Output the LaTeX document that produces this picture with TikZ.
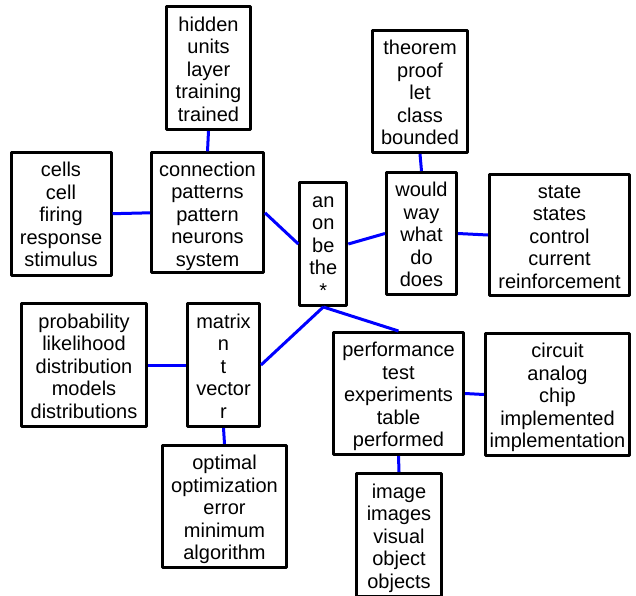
\documentclass[tikz,border=0pt]{standalone}
\usepackage{fontspec}
\setmainfont{Liberation Sans}
\newcommand\ls{\rule[-4.5pt]{0pt}{25.5pt}}
\newcommand\tfont{\fontsize{20}{22.5}\selectfont\lineskiplimit=-100pt\relax\lineskip=0pt\relax}
\begin{document}
\begin{tikzpicture}[x=1pt,y=-1pt,
  topic/.style={draw=black, line width=3pt, line join=round, fill=white, inner sep=0pt,
    align=center, font=\tfont, text=black},
  link/.style={draw={rgb,255:red,0;green,0;blue,255}, line width=3pt}]
\useasboundingbox (0,0) rectangle (636,595);
\node[topic, minimum width=84pt, minimum height=123pt] (hid) at (208.5,68) {\ls hidden\\\ls units\\\ls layer\\\ls training\\\ls trained};
\node[topic, minimum width=100pt, minimum height=123pt] (cel) at (61,213.7) {\ls cells\\\ls cell\\\ls firing\\\ls response\\\ls stimulus};
\node[topic, minimum width=112pt, minimum height=120pt] (con) at (207.5,212.8) {\ls connection\\\ls patterns\\\ls pattern\\\ls neurons\\\ls system};
\node[topic, minimum width=47pt, minimum height=123pt] (ctr) at (323.3,244) {\ls an\\\ls on\\\ls be\\\ls the\\\ls *};
\node[topic, minimum width=95pt, minimum height=122pt] (thm) at (420,91.5) {\ls theorem\\\ls proof\\\ls let\\\ls class\\\ls bounded};
\node[topic, minimum width=70pt, minimum height=122pt] (wou) at (421.5,233.5) {\ls would\\\ls way\\\ls what\\\ls do\\\ls does};
\node[topic, minimum width=140pt, minimum height=121pt] (sta) at (559.5,235) {\ls state\\\ls states\\\ls control\\\ls current\\\ls reinforcement};
\node[topic, minimum width=125pt, minimum height=123pt] (pro) at (84,365) {\ls probability\\\ls likelihood\\\ls distribution\\\ls models\\\ls distributions};
\node[topic, minimum width=72pt, minimum height=123pt] (mat) at (223.5,365) {\ls matrix\\\ls n\\\ls t\\\ls vector\\\ls r};
\node[topic, minimum width=124pt, minimum height=122pt] (opt) at (224.5,506.5) {\ls optimal\\\ls optimization\\\ls error\\\ls minimum\\\ls algorithm};
\node[topic, minimum width=130pt, minimum height=122pt] (per) at (398.5,393.5) {\ls performance\\\ls test\\\ls experiments\\\ls table\\\ls performed};
\node[topic, minimum width=144pt, minimum height=122pt] (cir) at (557.5,394.5) {\ls circuit\\\ls analog\\\ls chip\\\ls implemented\\\ls implementation};
\node[topic, minimum width=85pt, minimum height=123pt] (img) at (399,535) {\ls image\\\ls images\\\ls visual\\\ls object\\\ls objects};
\draw[link] (hid.south) -- (con.north);
\draw[link] (cel.east) -- (con.west);
\draw[link] (con.east) -- (ctr.west);
\draw[link] (ctr.east) -- (wou.west);
\draw[link] (thm.south) -- (wou.north);
\draw[link] (wou.east) -- (sta.west);
\draw[link] (ctr.south) -- (mat.east);
\draw[link] (ctr.south) -- (per.north);
\draw[link] (pro.east) -- (mat.west);
\draw[link] (mat.south) -- (opt.north);
\draw[link] (per.east) -- (cir.west);
\draw[link] (per.south) -- (img.north);
\end{tikzpicture}
\end{document}
